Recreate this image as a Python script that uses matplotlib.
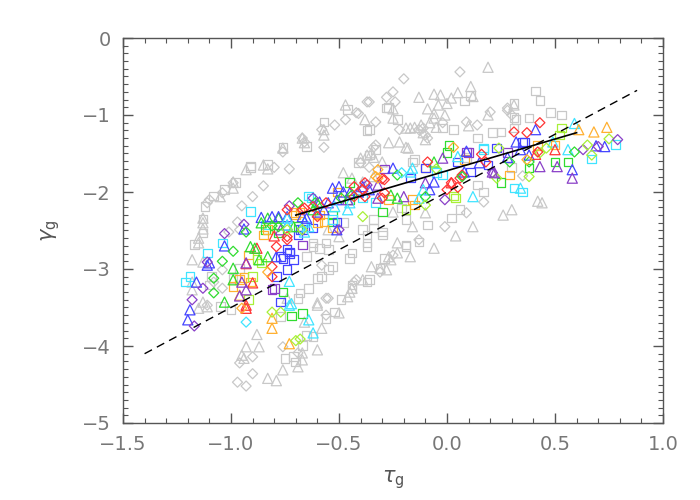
import numpy as np
import matplotlib
matplotlib.use("Agg")
import matplotlib.pyplot as plt
from matplotlib.ticker import MultipleLocator

# colour names used for the coloured sample
COLOURS = {
    "purple": "#8a40c8",
    "blue": "#4444ff",
    "cyan": "#40e4ff",
    "green": "#30dc30",
    "lime": "#a8f038",
    "orange": "#ffb030",
    "red": "#ff3434",
}
GREY = "#c8c8c8"

# grey background sample (tau_g, gamma_g)
grey_squares = [
    (-0.76, -1.42), (-0.91, -1.66), (-0.83, -1.64), (-1.03, -1.97), (-1.08, -2.05),
    (-1.12, -2.19), (-1.13, -2.35), (-1.13, -2.53), (-1.17, -2.68), (-0.65, -1.41),
    (-0.98, -1.88), (-0.91, -1.68), (-0.46, -0.93), (-0.28, -0.91), (0.08, -0.82),
    (-0.57, -1.09), (-0.37, -1.20), (-0.23, -1.06), (-0.02, -1.17), (0.03, -1.19),
    (-0.41, -1.62), (-0.15, -1.58), (0.41, -0.69), (0.43, -0.81), (0.31, -0.85),
    (0.32, -1.06), (0.48, -0.97), (0.53, -1.00), (0.38, -1.04), (0.14, -1.30),
    (0.21, -1.23), (0.25, -1.22), (-0.36, -1.19), (0.31, -1.03), (0.11, -0.75),
    (-0.27, -0.90), (-0.36, -1.52), (-0.33, -1.45), (-0.16, -1.61), (0.09, -1.55),
    (0.31, -1.17), (0.30, -1.68), (0.14, -1.91), (0.17, -2.00),
    (0.06, -2.23), (0.02, -2.34), (-0.09, -2.43), (-0.19, -2.36), (-0.39, -2.49),
    (-0.37, -2.56), (-0.30, -2.56), (-0.30, -2.52), (-0.37, -2.66), (-0.37, -2.71),
    (-0.19, -2.71), (-0.44, -2.79), (-0.45, -2.86), (-0.55, -2.75), (-0.53, -2.97),
    (-0.55, -3.01), (-0.60, -3.12), (-0.58, -3.10), (-0.37, -3.17), (-0.44, -3.25),
    (-0.49, -3.40), (-0.62, -2.71), (-0.59, -2.73), (-0.65, -2.84), (-0.68, -3.31),
    (-0.19, -2.69), (-0.13, -2.65), (-0.29, -2.86), (-0.31, -2.99), (-0.75, -4.16),
    (-0.71, -4.14), (-0.70, -4.21), (-0.77, -3.62), (-0.56, -3.64), (-0.52, -3.56),
    (-0.44, -3.21), (-0.36, -3.14), (-0.62, -3.88), (-0.69, -3.38), (-0.64, -3.25),
    (-0.65, -3.86), (-0.67, -3.99), (-1.09, -3.10), (-1.10, -3.21), (-1.05, -3.49),
    (-0.96, -2.99), (-0.99, -3.12), (-1.00, -3.53), (-0.56, -2.66), (-0.62, -2.66),
    (-0.48, -2.40), (-0.34, -2.36), (-0.34, -2.47), (-0.21, -2.21),
]

grey_triangles = [
    (-0.66, -1.36), (-0.93, -1.71), (-0.83, -1.70), (-0.99, -1.95), (-1.05, -2.06),
    (-1.13, -2.40), (-1.13, -2.48), (-1.15, -2.66), (-0.47, -0.87), (-0.25, -0.92),
    (-0.13, -0.77), (-0.06, -0.73), (-0.03, -0.74), (0.00, -0.85), (0.02, -0.78),
    (-0.09, -0.92), (-0.06, -0.98), (-0.01, -1.00), (-0.38, -1.06), (-0.17, -1.17),
    (-0.15, -1.16), (-0.12, -1.13), (-0.08, -1.10), (-0.06, -1.04), (-0.57, -1.26),
    (-0.27, -1.36), (-0.22, -1.35), (-0.19, -1.42), (-0.18, -1.43), (-0.40, -1.56),
    (-0.37, -1.52), (-0.35, -1.49), (-0.30, -1.61), (-0.48, -1.75), (0.19, -0.38),
    (0.11, -0.63), (0.12, -0.76), (0.19, -1.00), (0.10, -1.14), (-0.57, -1.19),
    (-0.67, -1.30), (-0.76, -1.43), (-0.85, -1.65), (-0.99, -1.87), (-0.34, -1.80),
    (-0.39, -1.87), (-0.44, -1.82), (-1.13, -2.34), (-1.15, -2.60), (-0.55, -2.49),
    (-0.50, -2.58), (0.05, -0.71), (-0.04, -0.87), (0.31, -0.87), (-0.25, -1.04),
    (-0.19, -1.17), (-0.11, -1.23), (-0.05, -1.16), (-0.10, -1.32), (-0.34, -1.55),
    (-0.10, -2.27), (0.04, -2.57), (-0.06, -2.73), (-0.16, -2.45), (-0.23, -2.66),
    (-0.26, -2.88), (-0.27, -2.84), (-0.23, -2.79), (-0.35, -2.97), (-0.31, -2.99),
    (-0.28, -3.01), (-0.45, -3.30), (-0.46, -3.36), (-0.44, -3.25), (-0.60, -3.44),
    (-0.17, -2.84), (-0.88, -3.85), (-0.93, -4.01), (-0.87, -4.01), (-0.95, -4.12),
    (-0.94, -4.16), (-0.83, -4.42), (-0.79, -4.45), (-0.76, -4.31), (-0.67, -4.18),
    (-0.69, -4.27), (-0.60, -4.05), (-0.58, -3.77), (-0.60, -3.47), (-0.50, -3.57),
    (-0.39, -3.14), (-1.18, -2.88), (-1.13, -2.91), (-1.18, -3.17), (-1.18, -3.27),
    (-1.13, -3.43), (-1.11, -3.49), (-1.15, -3.51), (-0.74, -3.38), (-0.66, -3.69),
    (-0.67, -4.09), (0.42, -2.12), (0.44, -2.14), (0.30, -2.23), (0.26, -2.30),
    (-0.25, -2.26), (0.12, -2.45),
]

grey_diamonds = [
    (-0.76, -1.48), (-0.80, -1.68), (-0.73, -1.70), (-0.85, -1.92), (-1.10, -2.10),
    (-0.90, -2.06), (-0.95, -2.18), (-0.97, -2.39), (-0.96, -2.49), (-1.01, -2.52),
    (-0.20, -0.53), (0.06, -0.44), (-0.25, -0.70), (-0.36, -0.83), (-0.24, -0.83),
    (-0.41, -0.98), (0.09, -1.09), (-0.52, -1.13), (-0.47, -1.06), (-0.33, -1.09),
    (-0.22, -1.19), (-0.13, -1.19), (-0.10, -1.26), (-0.09, -1.30), (-0.58, -1.19),
    (-0.67, -1.30), (-0.66, -1.35), (-0.57, -1.42), (0.20, -0.96), (0.28, -0.94),
    (0.30, -1.00), (-0.37, -0.83), (-0.42, -0.97), (-0.33, -1.39), (-0.40, -1.62),
    (-0.36, -1.68), (-0.99, -1.88), (-1.04, -2.01), (-1.11, -2.14), (-0.28, -0.77),
    (0.28, -0.91), (-0.34, -1.42), (-0.11, -1.17), (-0.02, -1.10), (0.14, -1.13),
    (0.35, -1.79),
    (-0.01, -2.45), (-0.13, -2.62), (-0.25, -2.82), (-0.31, -3.04), (-0.58, -2.95),
    (-0.43, -3.17), (-0.42, -3.14), (-0.55, -3.38), (-0.90, -4.14), (-0.96, -4.22),
    (-0.90, -4.36), (-0.97, -4.47), (-0.93, -4.52), (-0.76, -4.01), (-0.69, -4.09),
    (-0.56, -3.38), (-0.56, -3.60), (-1.04, -3.01), (-1.04, -3.25), (-1.11, -3.47),
    (-1.08, -3.17), (0.17, -2.13), (0.09, -2.27),
]

# coloured sample (tau_g, gamma_g, colour)
colour_squares = [
    (-0.91, -2.25, "cyan"), (-0.64, -2.05, "cyan"), (-0.84, -2.43, "cyan"),
    (-1.04, -2.66, "cyan"), (-1.11, -2.79, "cyan"), (-0.71, -2.27, "orange"),
    (-0.85, -2.56, "orange"), (-0.67, -2.69, "purple"), (-0.73, -2.78, "blue"),
    (-0.92, -2.82, "orange"), (-1.21, -3.17, "cyan"), (-1.19, -3.10, "cyan"),
    (-0.99, -3.23, "orange"), (-0.94, -3.11, "orange"), (-0.91, -3.17, "orange"),
    (-0.92, -3.40, "lime"), (-0.88, -2.88, "lime"), (-0.86, -2.92, "lime"),
    (-0.81, -3.27, "purple"), (-0.79, -3.10, "blue"), (-0.77, -3.43, "blue"),
    (-0.76, -3.30, "green"), (-0.72, -3.61, "green"), (-0.67, -3.58, "green"),
    (-0.71, -2.88, "blue"), (-0.73, -2.80, "blue"), (-0.77, -2.84, "blue"),
    (-0.70, -2.30, "orange"), (-0.90, -3.10, "lime"), (-0.74, -3.01, "blue"),
    (-0.74, -2.75, "blue"), (-0.67, -2.49, "blue"), (-0.62, -2.47, "blue"),
    (-0.57, -2.39, "orange"), (0.01, -1.40, "green"), (0.00, -1.49, "green"),
    (-0.10, -1.69, "orange"), (0.05, -1.61, "blue"), (-0.29, -1.70, "purple"),
    (-0.17, -1.82, "blue"), (-0.45, -1.88, "green"), (-0.05, -1.75, "cyan"),
    (-0.02, -1.78, "cyan"), (0.53, -1.17, "lime"), (0.52, -1.26, "lime"),
    (0.78, -1.38, "cyan"), (0.67, -1.57, "cyan"), (0.29, -1.78, "orange"),
    (0.38, -1.69, "green"), (0.50, -1.61, "green"), (0.56, -1.61, "green"),
    (0.42, -1.40, "orange"), (0.35, -1.36, "blue"), (0.23, -1.43, "blue"),
    (0.28, -1.49, "purple"), (0.09, -1.48, "purple"), (0.17, -1.45, "cyan"),
    (0.08, -1.58, "orange"), (0.25, -1.88, "green"), (0.31, -1.95, "cyan"),
    (0.11, -1.74, "blue"), (-0.59, -2.30, "orange"), (-0.60, -2.40, "orange"),
    (-0.53, -2.30, "green"), (-0.53, -2.39, "green"), (-0.51, -2.39, "blue"),
    (-0.53, -2.47, "orange"), (-0.33, -2.14, "cyan"), (-0.39, -2.08, "cyan"),
    (-0.30, -2.26, "green"), (-0.19, -2.23, "lime"), (-0.27, -2.10, "orange"),
    (-0.16, -2.10, "orange"), (-0.15, -2.17, "orange"), (0.04, -2.08, "lime"),
    (-0.51, -2.00, "orange"), (-0.45, -2.10, "green"), (-0.68, -2.27, "orange"),
    (-0.53, -2.36, "cyan"), (-0.69, -2.45, "green"), (-0.78, -2.53, "green"),
    (-0.84, -2.49, "green"), (-0.83, -2.49, "orange"), (-0.69, -2.56, "blue"),
    (-0.68, -2.49, "blue"), (-0.63, -2.08, "cyan"), (-0.10, -1.69, "blue"),
    (0.03, -2.05, "lime"), (0.10, -1.49, "purple"), (0.17, -1.43, "cyan"),
    (0.19, -1.65, "blue"), (0.35, -2.00, "cyan"), (0.36, -1.35, "blue"),
    (0.50, -1.39, "orange"), (-0.80, -3.25, "purple"), (-0.76, -2.86, "blue"),
    (-0.96, -3.14, "orange"),
]

colour_triangles = [
    (-0.86, -2.33, "blue"), (-0.94, -2.48, "blue"), (-1.03, -2.70, "blue"),
    (-0.78, -2.34, "green"), (-0.74, -2.43, "blue"), (-0.71, -2.45, "green"),
    (-0.80, -2.57, "red"), (-0.88, -2.73, "red"), (-1.20, -3.66, "blue"),
    (-1.19, -3.53, "blue"), (-1.16, -3.17, "blue"), (-1.10, -2.92, "blue"),
    (-0.99, -2.99, "green"), (-1.03, -3.43, "green"), (-0.99, -3.14, "green"),
    (-0.93, -2.93, "red"), (-0.93, -2.92, "purple"), (-0.91, -2.71, "green"),
    (-0.95, -3.17, "purple"), (-0.90, -3.18, "red"), (-0.96, -3.34, "orange"),
    (-0.96, -3.35, "purple"), (-0.93, -3.47, "red"), (-0.73, -3.47, "cyan"),
    (-0.73, -3.16, "cyan"), (-0.81, -3.64, "orange"), (-0.81, -3.77, "orange"),
    (-0.64, -3.66, "cyan"), (-0.62, -3.83, "cyan"), (-0.73, -3.97, "orange"),
    (-0.78, -2.32, "blue"), (-0.74, -2.32, "blue"), (-0.89, -2.73, "green"),
    (-0.87, -2.88, "green"), (-0.83, -2.84, "green"), (-0.79, -2.84, "blue"),
    (-0.66, -2.39, "cyan"), (-0.64, -2.45, "cyan"), (-0.60, -2.26, "blue"),
    (-0.57, -2.23, "blue"), (0.09, -1.47, "blue"), (-0.02, -1.56, "purple"),
    (-0.06, -1.61, "green"), (0.05, -1.54, "cyan"), (-0.25, -1.69, "blue"),
    (-0.17, -1.74, "cyan"), (-0.16, -1.69, "cyan"), (-0.39, -1.93, "blue"),
    (-0.50, -1.93, "blue"), (-0.10, -1.88, "purple"), (0.41, -1.19, "blue"),
    (0.59, -1.11, "cyan"), (0.61, -1.19, "orange"), (0.68, -1.22, "orange"),
    (0.74, -1.16, "orange"), (0.73, -1.41, "blue"), (0.69, -1.40, "blue"),
    (0.58, -1.71, "blue"), (0.58, -1.82, "purple"), (0.43, -1.67, "purple"),
    (0.51, -1.67, "purple"), (0.56, -1.45, "cyan"), (0.49, -1.35, "cyan"),
    (0.50, -1.45, "red"), (0.38, -1.52, "blue"), (0.34, -1.45, "blue"),
    (0.32, -1.35, "blue"), (0.28, -1.55, "blue"), (0.21, -1.74, "purple"),
    (0.34, -1.95, "cyan"), (0.15, -1.62, "blue"), (-0.59, -2.13, "blue"),
    (-0.66, -2.52, "cyan"), (-0.53, -1.95, "blue"), (-0.48, -2.00, "blue"),
    (-0.41, -2.00, "blue"), (-0.36, -1.97, "blue"), (-0.45, -2.14, "cyan"),
    (-0.46, -2.10, "purple"), (-0.32, -2.08, "purple"), (-0.20, -2.06, "purple"),
    (-0.26, -2.04, "green"), (-0.23, -2.08, "green"), (-0.13, -2.08, "cyan"),
    (-0.08, -1.97, "blue"), (-0.45, -2.01, "blue"), (-0.55, -2.14, "blue"),
    (-0.51, -2.10, "blue"), (-0.52, -2.19, "cyan"), (-0.46, -2.23, "cyan"),
    (-0.51, -2.49, "blue"), (-0.60, -2.14, "green"), (-0.62, -2.23, "green"),
    (-0.67, -2.32, "blue"), (-0.65, -2.34, "blue"), (-0.83, -2.34, "green"),
    (-0.86, -2.40, "green"), (-0.81, -2.32, "blue"), (-0.74, -2.34, "cyan"),
    (-0.74, -2.43, "cyan"), (-0.77, -2.49, "purple"), (-0.32, -1.91, "purple"),
    (-0.11, -1.97, "cyan"), (-0.06, -1.87, "blue"), (0.02, -1.88, "red"),
    (0.08, -1.74, "blue"), (0.12, -2.06, "cyan"), (0.22, -1.75, "purple"),
    (0.41, -1.51, "red"), (-0.93, -3.51, "red"), (-0.93, -3.27, "purple"),
    (-0.72, -3.45, "cyan"), (-1.11, -2.95, "blue"),
]

colour_diamonds = [
    (-0.73, -2.18, "purple"), (-0.69, -2.14, "green"), (-0.94, -2.42, "purple"),
    (-0.93, -2.52, "green"), (-1.03, -2.54, "purple"), (-0.99, -2.77, "green"),
    (-0.67, -2.23, "red"), (-0.74, -2.58, "red"), (-0.78, -2.45, "green"),
    (-1.18, -3.40, "purple"), (-1.17, -3.74, "purple"), (-1.13, -3.25, "purple"),
    (-1.08, -3.31, "green"), (-1.08, -3.12, "green"), (-1.04, -2.90, "green"),
    (-0.93, -3.69, "cyan"), (-0.95, -3.51, "orange"), (-0.81, -2.97, "red"),
    (-0.81, -3.10, "red"), (-0.81, -3.56, "lime"), (-0.77, -3.56, "lime"),
    (-0.70, -3.93, "lime"), (-0.68, -3.91, "lime"), (-0.66, -2.21, "red"),
    (-0.81, -2.44, "green"), (-1.11, -2.91, "purple"), (-0.83, -3.04, "orange"),
    (-0.74, -2.62, "red"), (-0.79, -2.71, "red"), (-0.60, -2.32, "red"),
    (-0.61, -2.14, "green"), (0.03, -1.42, "orange"), (-0.09, -1.61, "red"),
    (-0.23, -1.78, "green"), (-0.21, -1.75, "cyan"), (-0.30, -1.83, "red"),
    (-0.33, -1.80, "orange"), (-0.37, -1.91, "purple"), (-0.43, -1.93, "red"),
    (0.02, -1.88, "red"), (0.06, -1.82, "red"), (0.07, -1.78, "red"),
    (0.43, -1.10, "red"), (0.31, -1.22, "red"), (0.37, -1.23, "red"),
    (0.75, -1.31, "lime"), (0.79, -1.32, "purple"), (0.70, -1.41, "purple"),
    (0.63, -1.45, "purple"), (0.65, -1.39, "lime"), (0.67, -1.52, "lime"),
    (0.38, -1.80, "lime"), (0.59, -1.48, "green"), (0.46, -1.43, "lime"),
    (0.43, -1.49, "lime"), (0.42, -1.48, "red"), (0.24, -1.43, "lime"),
    (0.29, -1.61, "green"), (0.23, -1.82, "lime"), (-0.62, -2.08, "purple"),
    (-0.62, -2.19, "red"), (-0.50, -2.49, "purple"), (-0.39, -2.32, "lime"),
    (-0.49, -2.08, "green"), (-0.44, -2.04, "green"), (-0.39, -1.97, "red"),
    (-0.30, -2.08, "red"), (-0.29, -2.01, "red"), (-0.10, -2.06, "green"),
    (-0.10, -2.17, "lime"), (-0.01, -2.10, "purple"), (0.05, -1.94, "red"),
    (0.00, -1.97, "red"), (-0.32, -1.82, "orange"), (-0.32, -1.71, "orange"),
    (-0.38, -1.88, "red"), (-0.43, -2.06, "red"), (-0.38, -2.06, "red"),
    (-0.56, -2.14, "red"), (-0.74, -2.49, "lime"), (-0.67, -2.49, "lime"),
    (-0.74, -2.23, "red"), (0.07, -1.80, "green"), (0.16, -1.51, "red"),
    (0.18, -1.61, "red"), (0.21, -1.75, "purple"), (0.38, -1.61, "green"),
    (0.37, -1.58, "orange"), (-0.29, -1.84, "red"), (-0.05, -1.70, "lime"),
]

# fitted relations
fit_tau = [-0.70, 0.60]
fit_gamma = [-2.30, -1.23]
ref_tau = [-1.40, 0.88]
ref_gamma = [-4.10, -0.68]


def draw(ax, pts, marker, ms, colour=None):
    pts = list(pts)
    xs = [p[0] for p in pts]
    ys = [p[1] for p in pts]
    if colour is None:
        cs = [COLOURS[p[2]] for p in pts]
    else:
        cs = [colour] * len(pts)
    ax.scatter(xs, ys, s=ms ** 2, marker=marker, facecolors="none",
               edgecolors=cs, linewidths=0.9)


fig = plt.figure(figsize=(7, 5), dpi=100)
ax = fig.add_axes([123 / 700, 77 / 500, 540 / 700, 385 / 500])

draw(ax, grey_squares, "s", 6.2, GREY)
draw(ax, grey_triangles, "^", 7.3, GREY)
draw(ax, grey_diamonds, "D", 5.1, GREY)

draw(ax, colour_squares, "s", 6.2)
draw(ax, colour_triangles, "^", 7.3)
draw(ax, colour_diamonds, "D", 5.1)

ax.plot(ref_tau, ref_gamma, color="black", lw=1.0, dashes=(6, 4))
ax.plot(fit_tau, fit_gamma, color="black", lw=1.2)

ax.set_xlim(-1.5, 1.0)
ax.set_ylim(-5, 0)
ax.xaxis.set_major_locator(MultipleLocator(0.5))
ax.xaxis.set_minor_locator(MultipleLocator(0.1))
ax.yaxis.set_major_locator(MultipleLocator(1))
ax.yaxis.set_minor_locator(MultipleLocator(0.1))
ax.set_xticklabels([f"{v:.1f}".replace("-", "\u2212") for v in ax.get_xticks()])
ax.set_yticklabels([f"{v:.0f}".replace("-", "\u2212") for v in ax.get_yticks()])

for side in ax.spines.values():
    side.set_color("#555555")
    side.set_linewidth(1.0)
ax.tick_params(which="both", direction="in", top=True, right=True,
               colors="#555555", labelcolor="#777777", labelsize=14)
ax.tick_params(which="major", length=7, width=1.0, pad=9)
ax.tick_params(which="minor", length=3.5, width=0.8)

ax.set_xlabel(r"$\tau_{\rm g}$", fontsize=15, color="#555555", labelpad=10)
ax.set_ylabel(r"$\gamma_{\rm g}$", fontsize=15, color="#555555", labelpad=14)

fig.savefig("out.png", dpi=100)
